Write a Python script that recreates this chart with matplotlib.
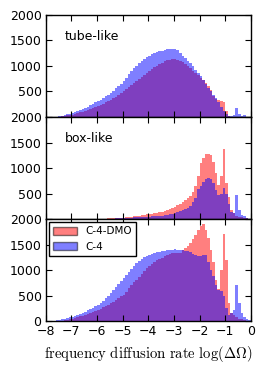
import matplotlib
matplotlib.use('Agg')
import matplotlib.pyplot as plt
from matplotlib.patches import Patch
import numpy as np

# bin edges of log(dOmega), width 0.1
edges = np.round(np.arange(-8.0, 0.01, 0.1), 2)
centers = (edges[:-1] + edges[1:]) / 2

# counts per bin
tube_c4 = [0, 0, 0, 2, 5, 10, 20, 35, 50, 65,
           80, 95, 115, 135, 160, 180, 200, 230, 255, 285,
           310, 340, 375, 410, 440, 470, 510, 560, 610, 655,
           700, 770, 840, 900, 960, 1000, 1050, 1100, 1140, 1170,
           1200, 1225, 1250, 1270, 1290, 1300, 1320, 1340, 1330, 1335,
           1330, 1310, 1260, 1200, 1150, 1100, 1050, 990, 920, 860,
           800, 720, 640, 560, 500, 440, 370, 290, 200, 120,
           50, 20, 10, 40, 180, 60, 10, 30, 5, 0]
tube_dmo = [0, 0, 0, 0, 2, 5, 10, 20, 30, 40,
            45, 60, 75, 90, 100, 110, 130, 150, 170, 190,
            210, 235, 260, 290, 315, 340, 370, 400, 430, 465,
            500, 540, 580, 620, 660, 700, 740, 780, 820, 860,
            900, 940, 970, 1000, 1035, 1065, 1090, 1110, 1125, 1130,
            1130, 1120, 1100, 1070, 1040, 1000, 960, 910, 860, 815,
            770, 720, 660, 600, 520, 410, 360, 330, 320, 300,
            110, 10, 0, 0, 0, 0, 0, 0, 0, 0]

box_c4 = [0, 0, 0, 0, 0, 0, 0, 0, 0, 0,
          0, 0, 0, 0, 0, 0, 0, 0, 0, 0,
          0, 0, 2, 4, 6, 8, 10, 12, 14, 15,
          18, 20, 24, 28, 32, 36, 40, 42, 44, 45,
          48, 52, 56, 60, 65, 70, 78, 86, 95, 105,
          110, 130, 150, 180, 200, 210, 250, 330, 420, 580,
          640, 720, 790, 810, 790, 700, 575, 475, 490, 610,
          500, 300, 145, 110, 475, 180, 80, 60, 30, 10]
box_dmo = [0, 0, 0, 0, 0, 0, 0, 0, 0, 0,
           0, 0, 0, 0, 0, 0, 0, 0, 0, 0,
           0, 2, 5, 10, 15, 18, 20, 22, 25, 28,
           30, 36, 42, 48, 55, 60, 68, 76, 84, 92,
           100, 108, 116, 125, 135, 145, 160, 180, 200, 220,
           245, 270, 300, 335, 370, 410, 460, 540, 640, 850,
           1100, 1200, 1270, 1280, 1250, 1120, 900, 660, 850, 1370,
           700, 440, 180, 110, 70, 45, 40, 30, 20, 10]

all_c4 = [2, 5, 8, 12, 18, 30, 40, 50, 60, 72,
          85, 100, 120, 140, 160, 185, 210, 240, 265, 290,
          315, 350, 400, 450, 500, 550, 610, 670, 730, 790,
          845, 900, 960, 1020, 1080, 1140, 1180, 1220, 1250, 1280,
          1300, 1320, 1340, 1350, 1360, 1370, 1380, 1390, 1400, 1400,
          1405, 1400, 1390, 1385, 1375, 1370, 1350, 1320, 1300, 1280,
          1270, 1290, 1300, 1150, 1000, 880, 700, 615, 600, 500,
          250, 120, 150, 220, 710, 350, 150, 85, 50, 20]
all_dmo = [0, 0, 2, 4, 5, 8, 12, 20, 30, 40,
           50, 65, 80, 95, 110, 120, 140, 160, 185, 205,
           220, 245, 270, 300, 325, 350, 385, 420, 460, 490,
           515, 570, 640, 700, 760, 810, 870, 930, 990, 1040,
           1075, 1110, 1150, 1190, 1220, 1240, 1270, 1300, 1320, 1335,
           1340, 1345, 1345, 1400, 1440, 1480, 1530, 1600, 1680, 1780,
           1860, 1900, 1780, 1620, 1400, 1150, 800, 630, 1000, 1700,
           1200, 350, 150, 120, 85, 50, 40, 25, 10, 5]

panel_names = ['tube-like', 'box-like', '']
dmo_series = [tube_dmo, box_dmo, all_dmo]
c4_series = [tube_c4, box_c4, all_c4]
labels = ['C-4-DMO', 'C-4']
xticks = np.arange(-8, 1, 1)
yticks = [0, 500, 1000, 1500, 2000]

plt.rcParams['mathtext.fontset'] = 'cm'

fig, axes = plt.subplots(3, 1, sharex=True, figsize=(2.64, 3.73), dpi=100)
fig.subplots_adjust(left=0.173, right=0.95, top=0.96, bottom=0.139, hspace=0)

for i, ax in enumerate(axes):
    ax.hist(centers, bins=edges, weights=dmo_series[i], histtype='stepfilled',
            color='red', alpha=0.5, lw=0)
    ax.hist(centers, bins=edges, weights=c4_series[i], histtype='stepfilled',
            color='blue', alpha=0.5, lw=0)
    ax.set_xlim(-8, 0)
    ax.set_ylim(0, 2000)
    ax.set_yticks(yticks)
    if i < 2:
        ax.set_yticklabels([''] + [str(t) for t in yticks[1:]])
    ax.set_xticks(xticks)
    ax.tick_params(direction='in', top=True, right=True, length=4, width=0.8,
                   labelsize=9, pad=3)
    for s in ax.spines.values():
        s.set_linewidth(1.0)
    if panel_names[i]:
        ax.text(0.095, 0.79, panel_names[i], transform=ax.transAxes,
                ha='left', va='center', fontsize=9)

handles = [Patch(facecolor='red', edgecolor='black', alpha=0.5, lw=1),
           Patch(facecolor='blue', edgecolor='black', alpha=0.5, lw=1)]
leg = axes[2].legend(handles, labels, loc='upper left', fontsize=7.5,
                     fancybox=False, framealpha=1, edgecolor='black',
                     borderaxespad=0.3, handlelength=2.3, handleheight=0.8)
leg.get_frame().set_linewidth(1.0)

axes[2].set_xticklabels(['\u22128', '\u22127', '\u22126', '\u22125', '\u22124',
                         '\u22123', '\u22122', '\u22121', '0'])
axes[2].set_xlabel(r'$\mathrm{frequency\ diffusion\ rate}\ \log(\Delta\Omega)$',
                   fontsize=10.6, labelpad=4)

fig.savefig('out.png', dpi=100)
